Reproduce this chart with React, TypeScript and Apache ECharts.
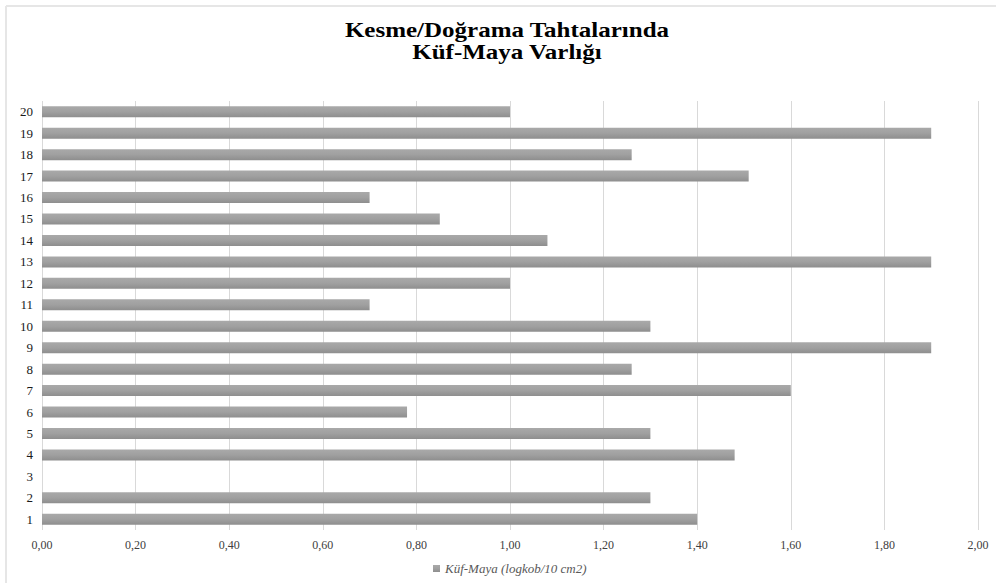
import React, { useEffect, useRef } from "react";
import * as echarts from "echarts";

const categories = ["1", "2", "3", "4", "5", "6", "7", "8", "9", "10", "11", "12", "13", "14", "15", "16", "17", "18", "19", "20"];
const values = [1.40, 1.30, 0, 1.48, 1.30, 0.78, 1.60, 1.26, 1.90, 1.30, 0.70, 1.00, 1.90, 1.08, 0.85, 0.70, 1.51, 1.26, 1.90, 1.00];
const seriesName = "Küf-Maya (logkob/10 cm2)";
const titleText = "Kesme/Doğrama Tahtalarında\nKüf-Maya Varlığı";

export default function App() {
  const ref = useRef<HTMLDivElement>(null);
  useEffect(() => {
    document.body.style.margin = "0";
    const chart = echarts.init(ref.current!, null, { renderer: "svg" });
    chart.setOption({
      animation: false,
      backgroundColor: "#ffffff",
      textStyle: { fontFamily: "Liberation Serif" },
      graphic: [
        { type: "line", shape: { x1: 6, y1: 6, x2: 996, y2: 6 }, style: { stroke: "#e6e6e6", lineWidth: 2 } },
        { type: "line", shape: { x1: 6, y1: 6, x2: 6, y2: 583 }, style: { stroke: "#e6e6e6", lineWidth: 2 } },
        {
          type: "text",
          x: 507,
          y: 19,
          scaleX: 1.19,
          style: {
            text: titleText,
            textAlign: "center",
            textVerticalAlign: "top",
            fontFamily: "Liberation Serif",
            fontWeight: "bold",
            fontSize: 21,
            lineHeight: 22,
            fill: "#000000",
          },
        },
      ],
      legend: {
        data: [seriesName],
        left: 428,
        top: 557,
        itemWidth: 7,
        itemHeight: 7,
        itemGap: 4,
        icon: "rect",
        textStyle: { fontFamily: "Liberation Serif", fontStyle: "italic", fontSize: 13, color: "#595959" },
      },
      grid: { left: 42, right: 18, top: 101, bottom: 53 },
      xAxis: {
        type: "value",
        min: 0,
        max: 2,
        interval: 0.2,
        axisLine: { show: false },
        axisTick: { show: false },
        splitLine: { lineStyle: { color: "#d9d9d9", width: 1 } },
        axisLabel: {
          formatter: (v: number) => v.toFixed(2).replace(".", ","),
          fontFamily: "Liberation Serif",
          fontSize: 12,
          color: "#404040",
          margin: 9,
        },
      },
      yAxis: {
        type: "category",
        data: categories,
        axisLine: { show: false },
        axisTick: { show: false },
        axisLabel: { fontFamily: "Liberation Serif", fontSize: 13, color: "#1a1a1a", margin: 9 },
      },
      series: [
        {
          name: seriesName,
          type: "bar",
          data: values,
          barWidth: 11,
          itemStyle: {
            color: new echarts.graphic.LinearGradient(0, 0, 0, 1, [
              { offset: 0, color: "#a9a9a9" },
              { offset: 0.5, color: "#a0a0a0" },
              { offset: 1, color: "#8e8e8e" },
            ]),
          },
        },
      ],
    });
    return () => chart.dispose();
  }, []);
  return <div ref={ref} style={{ position: "absolute", left: 0, top: 0, width: 996, height: 583 }} />;
}
